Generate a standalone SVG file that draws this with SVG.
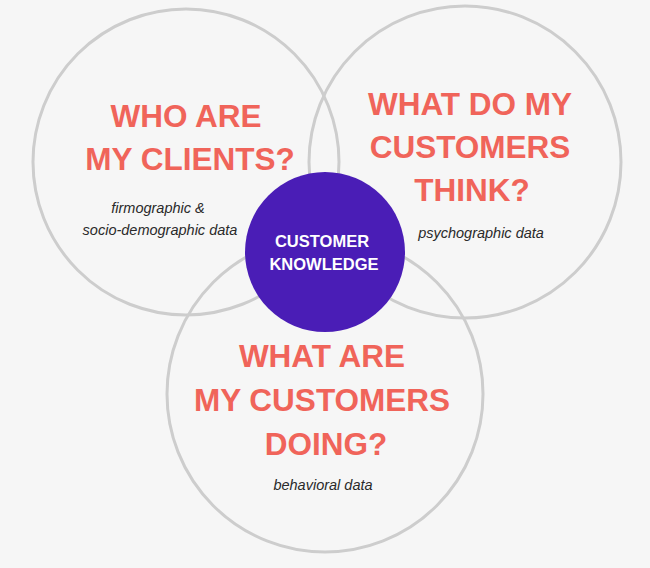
<svg xmlns="http://www.w3.org/2000/svg" width="650" height="568" viewBox="0 0 650 568">
<style>
.ring{fill:none;stroke:#cdcdcd;stroke-width:3}
.q{font-family:"Liberation Sans",Arial,sans-serif;font-weight:bold;font-size:31.5px;fill:#f0645a;text-anchor:middle}
.d{font-family:"Liberation Sans",Arial,sans-serif;font-style:italic;font-size:14.5px;fill:#2a2a2a;text-anchor:middle}
.c{font-family:"Liberation Sans",Arial,sans-serif;font-weight:bold;font-size:16.5px;fill:#ffffff;text-anchor:middle}
</style>
<rect width="650" height="568" fill="#f6f6f6"/>
<g id="who">
<circle class="ring" cx="186" cy="162" r="153"/>
<text class="q" x="186" y="127">WHO ARE</text>
<text class="q" x="190" y="170">MY CLIENTS?</text>
<text class="d" x="158" y="213">firmographic &amp;</text>
<text class="d" x="160" y="235">socio-demographic data</text>
</g>
<g id="think">
<circle class="ring" cx="465" cy="162" r="156"/>
<text class="q" x="470" y="115">WHAT DO MY</text>
<text class="q" x="470" y="158">CUSTOMERS</text>
<text class="q" x="472" y="201">THINK?</text>
<text class="d" x="481" y="238">psychographic data</text>
</g>
<g id="doing">
<circle class="ring" cx="325" cy="394" r="158"/>
<text class="q" x="322" y="367">WHAT ARE</text>
<text class="q" x="322" y="411">MY CUSTOMERS</text>
<text class="q" x="326" y="455">DOING?</text>
<text class="d" x="323" y="490">behavioral data</text>
</g>
<g id="knowledge">
<circle cx="325" cy="252" r="80" fill="#4a1db6"/>
<text class="c" x="322" y="247">CUSTOMER</text>
<text class="c" x="324" y="270">KNOWLEDGE</text>
</g>
<g id="connectors"></g>
</svg>
